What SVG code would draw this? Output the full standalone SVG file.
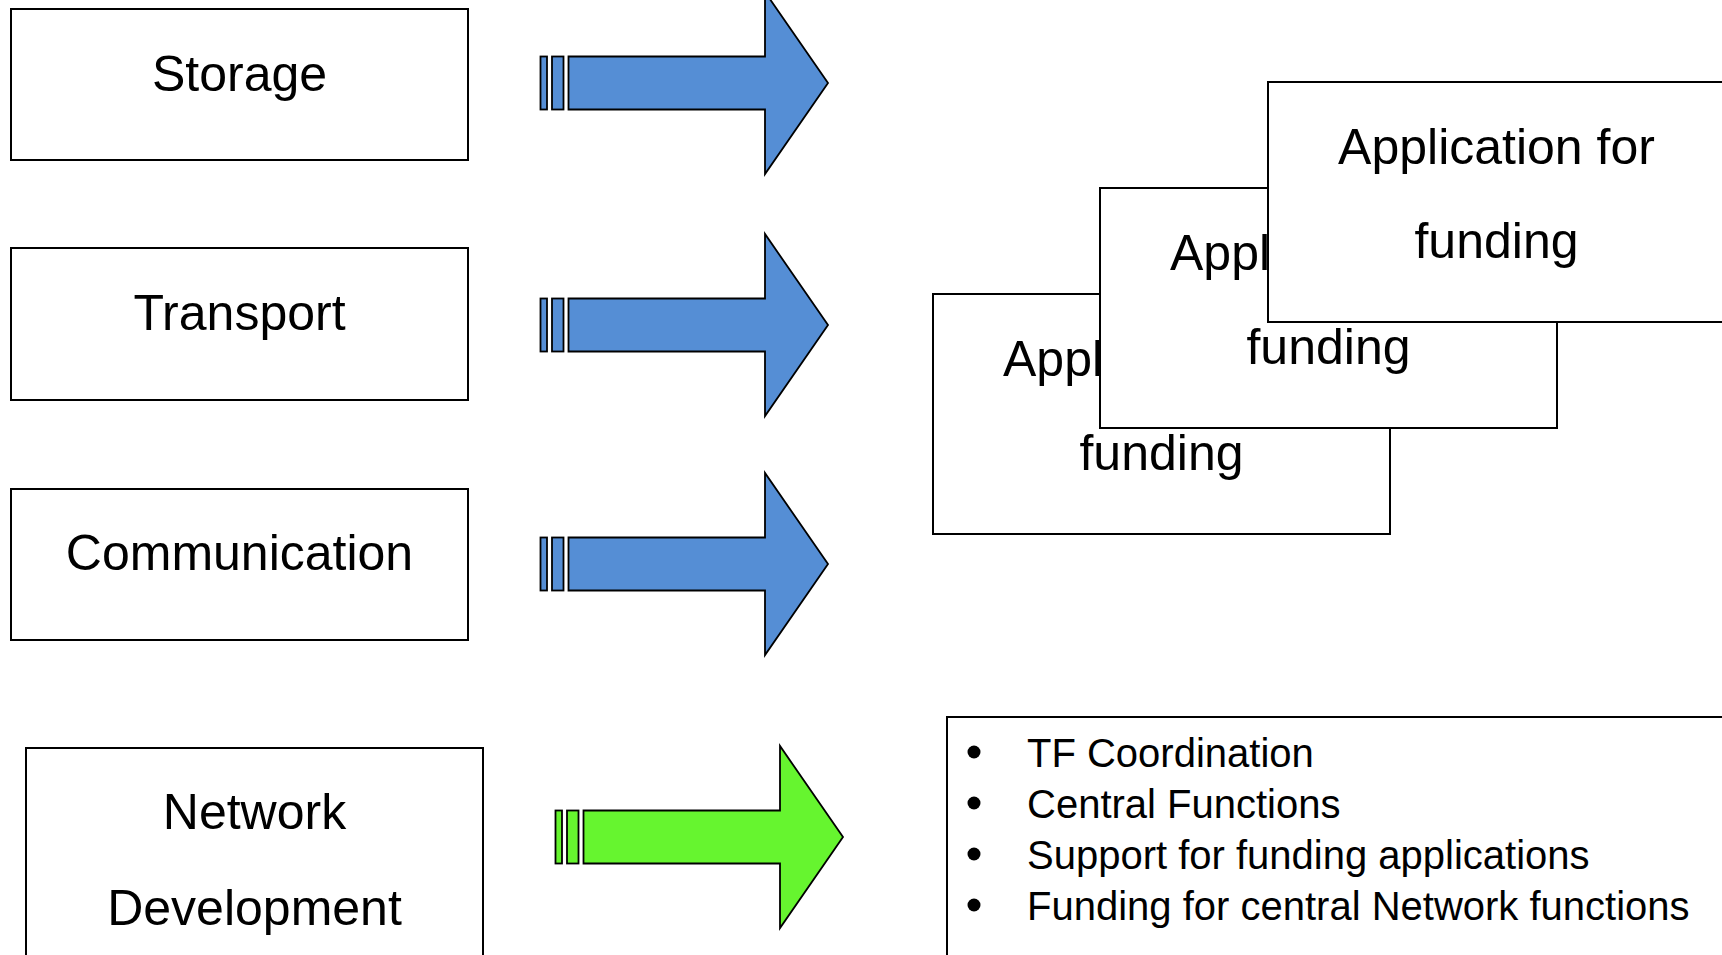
<svg xmlns="http://www.w3.org/2000/svg" xmlns:xlink="http://www.w3.org/1999/xlink" width="1722" height="955" viewBox="0 0 1722 955">
  <style>
    .box { fill: #ffffff; stroke: #000000; stroke-width: 2; }
    .lbl { font-family: "Liberation Sans", Arial, sans-serif; font-size: 50px; fill: #000000; text-anchor: middle; }
    .lbs { font-family: "Liberation Sans", Arial, sans-serif; font-size: 50px; fill: #000000; text-anchor: start; }
    .bul { font-family: "Liberation Sans", Arial, sans-serif; font-size: 40px; fill: #000000; }
    .blue { fill: #558ED5; stroke: #000000; stroke-width: 1.8; stroke-linejoin: miter; }
    .green { fill: #66F52F; stroke: #000000; stroke-width: 1.8; stroke-linejoin: miter; }
  </style>
  <defs>
    <g id="arrowShape">
      <rect x="540.5" y="-26.5" width="6.5" height="53"/>
      <rect x="552" y="-26.5" width="11.5" height="53"/>
      <polygon points="568.5,-26.5 765,-26.5 765,-91 828,0 765,91 765,26.5 568.5,26.5"/>
    </g>
  </defs>
  <rect width="1722" height="955" fill="#ffffff"/>

  <g id="storage">
    <rect class="box" x="11" y="9" width="457" height="151"/>
    <text class="lbl" x="239.5" y="91">Storage</text>
  </g>
  <g id="transport">
    <rect class="box" x="11" y="248" width="457" height="152"/>
    <text class="lbl" x="239.5" y="330">Transport</text>
  </g>
  <g id="communication">
    <rect class="box" x="11" y="489" width="457" height="151"/>
    <text class="lbl" x="239.5" y="570">Communication</text>
  </g>
  <g id="network-development">
    <rect class="box" x="26" y="748" width="457" height="260"/>
    <text class="lbl" x="254.5" y="829">Network</text>
    <text class="lbl" x="254.5" y="925">Development</text>
  </g>

  <g id="connectors">
    <use xlink:href="#arrowShape" class="blue" transform="translate(0,83)"/>
    <use xlink:href="#arrowShape" class="blue" transform="translate(0,325)"/>
    <use xlink:href="#arrowShape" class="blue" transform="translate(0,564)"/>
    <use xlink:href="#arrowShape" class="green" transform="translate(15,837)"/>
  </g>

  <g id="application-back">
    <rect class="box" x="933" y="294" width="457" height="240"/>
    <text class="lbs" x="1003" y="376">Appl</text>
    <text class="lbl" x="1161.5" y="470">funding</text>
  </g>
  <g id="application-middle">
    <rect class="box" x="1100" y="188" width="457" height="240"/>
    <text class="lbs" x="1170" y="270">Appl</text>
    <text class="lbl" x="1328.5" y="364">funding</text>
  </g>
  <g id="application-front">
    <rect class="box" x="1268" y="82" width="457" height="240"/>
    <text class="lbl" x="1496.5" y="164">Application for</text>
    <text class="lbl" x="1496.5" y="258">funding</text>
  </g>

  <g id="central-tasks">
    <rect class="box" x="947" y="717" width="800" height="280"/>
    <circle cx="974" cy="752" r="6.5"/>
    <circle cx="974" cy="803" r="6.5"/>
    <circle cx="974" cy="854" r="6.5"/>
    <circle cx="974" cy="905" r="6.5"/>
    <text class="bul" x="1027" y="767">TF Coordination</text>
    <text class="bul" x="1027" y="818">Central Functions</text>
    <text class="bul" x="1027" y="869">Support for funding applications</text>
    <text class="bul" x="1027" y="920">Funding for central Network functions</text>
  </g>
</svg>
